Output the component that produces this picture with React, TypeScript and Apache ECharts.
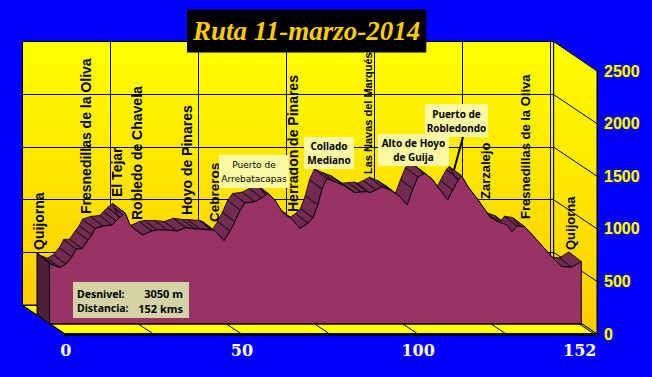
import React, { useEffect, useRef } from "react";
import * as echarts from "echarts";

const TITLE = "Ruta 11-marzo-2014";
const kms = [0,1.3,3,4.7,6.4,7.6,9.3,11,12.1,13,15.3,17.9,19,20.2,21.6,22.2,23,25.3,26.7,29.3,30.7,33.6,36.4,39,41.6,43,46.4,47.3,48.4,49.9,51.6,53,54.5,55.9,58.7,60.7,62.5,64.4,66.5,67.9,69.3,70.5,71.6,73.9,75.3,76.7,77.9,79.3,81.6,83.9,85.6,87.3,89,90.7,91.6,93.3,95,97.3,99.6,101,102.2,103.9,105.3,107.3,109.6,111,113.8,115.3,117,117.8,119.6,122.5,125.9,128.2,130.8,132.2,133.6,135.9,138.8,141.6,143.9,146.4,149.3,152];
const elevations = [575,556,535,570,637,713,716,798,846,906,932,941,979,1017,1055,1008,941,875,846,884,894,894,884,915,903,903,894,884,846,792,884,972,1084,1150,1163,1198,1240,1179,1067,1027,1003,951,908,960,1008,1131,1283,1383,1350,1321,1283,1248,1255,1258,1248,1274,1305,1274,1226,1179,1131,1283,1397,1432,1369,1302,1179,1274,1378,1407,1305,1179,1017,972,941,875,934,922,817,713,627,547,539,594];
const elevationTicks = [0,500,1000,1500,2000,2500];
const gridKms = [0,25,50,75,100,125,150];
const kmTickPositions = [0,50,100,150.4];
const kmTickLabels = ["0","50","100","152"];
const towns = ["Quijorna","Fresnedillas de la Oliva","El Tejar","Robledo de Chavela","Hoyo de Pinares","Cebreros","Herradon de Pinares","Las Navas del Marqués","Zarzalejo","Fresnedillas de la Oliva","Quijorna"];
const passes = ["Puerto de\nArrebatacapas","Collado\nMediano","Alto de Hoyo\nde Guija","Puerto de\nRobledondo"];
const summary = [["Desnivel:","3050 m"],["Distancia:","152 kms"]];

// layout of the pictured 3D box
const townPlace = [[39,250,14],[86,214,14],[117,197,14],[137,220,14],[187,215,14],[214,222,13.5],[293,212,14],[368,174,11],[485,199,13],[525,219,13],[570,250,13]];
const passBox = [
  [219,155,70,33,false],
  [304,137,50,32,true],
  [378,134,71,32,true],
  [425,104,63,33,true],
];
const SHIFT = [-12.5,-9.5];
const wallFill = () => new echarts.graphic.LinearGradient(0,0,0,1,[{offset:0,color:"#ffff00"},{offset:1,color:"#ffcc00"}]);

export default function App() {
  const ref = useRef<HTMLDivElement>(null);
  useEffect(() => {
    const chart = echarts.init(ref.current!, null, { renderer: "svg" });
    const data = kms.map((k,i)=>[k,elevations[i]]);
    const pxPerM = 263/2500;
    const graphic: any[] = [];
    // side wall
    graphic.push({ type:"polygon", z:-5, shape:{points:[[553.7,41.5],[597,71],[597,334],[553.7,305]]}, style:{fill:wallFill(),stroke:"#000",lineWidth:1}});
    // floor
    graphic.push({ type:"polygon", z:-5, shape:{points:[[22,305],[553.7,305],[597,334],[65,334]]}, style:{fill:"#ffff00",stroke:"#000",lineWidth:1}});
    elevationTicks.slice(1,-1).forEach(v=>{
      graphic.push({ type:"line", z:-4, shape:{x1:553.7,y1:305-v*pxPerM,x2:597,y2:334-v*pxPerM}, style:{stroke:"#000",lineWidth:1}});
    });
    gridKms.forEach(k=>{
      graphic.push({ type:"line", z:-4, shape:{x1:22+k*3.52,y1:305,x2:65+k*3.53,y2:334}, style:{stroke:"#000",lineWidth:1}});
    });
    towns.forEach((t,i)=>{
      const [x,y,s] = townPlace[i];
      graphic.push({ type:"text", z:-1, x, y, rotation:Math.PI/2, style:{text:t,fill:"#000",font:`bold ${s}px "Liberation Sans"`,align:"left",verticalAlign:"middle"}});
    });
    passes.forEach((t,i)=>{
      const [x,y,w,h,b] = passBox[i] as any;
      graphic.push({ type:"rect", z:20, shape:{x,y,width:w,height:h}, style:{fill:"#f9f9a3"}});
      graphic.push({ type:"text", z:21, x:x+w/2, y:y+h/2, style:{text:t,fill:"#000",font:b?'bold 10px "Noto Sans"':'9px "DejaVu Sans"',align:"center",verticalAlign:"middle",lineHeight:14}});
    });
    graphic.push({ type:"line", z:20, shape:{x1:463,y1:137,x2:454,y2:170}, style:{stroke:"#000",lineWidth:2}});
    graphic.push({ type:"rect", z:20, shape:{x:73,y:282,width:116,height:36}, style:{fill:"#d3d3a5"}});
    summary.forEach((r,i)=>{
      const y = 293.5+i*14.5;
      graphic.push({ type:"text", z:21, x:77, y, style:{text:r[0],fill:"#000",font:'bold 10.5px "Noto Sans"',align:"left",verticalAlign:"middle"}});
      graphic.push({ type:"text", z:21, x:183, y, style:{text:r[1],fill:"#000",font:'bold 11px "Noto Sans"',align:"right",verticalAlign:"middle"}});
    });

    const hidden = { show:false };
    chart.setOption({
      animation:false,
      backgroundColor:"#0000ff",
      title:{ text:TITLE, left:187, top:10, padding:[8,6], backgroundColor:"#000", z:30,
        textStyle:{ color:"#ffcc00", fontFamily:"Liberation Serif", fontStyle:"italic", fontWeight:"bold", fontSize:27, lineHeight:26, textShadowColor:"#806000", textShadowBlur:0, textShadowOffsetX:1, textShadowOffsetY:1 } },
      graphic,
      grid:[
        { left:22, top:41.5, width:531.7, height:263.5, show:true, backgroundColor:wallFill(), borderWidth:0, z:-10 },
        { left:597, top:71, width:1, height:263, show:false },
        { left:65, top:71, width:530, height:263, show:false },
        { left:49.5, top:61, width:531.8, height:263, show:false },
      ],
      xAxis:[
        { gridIndex:0, type:"value", min:0, max:151.05, interval:25, position:"top", z:-3,
          axisLine:{show:true,lineStyle:{color:"#000",width:1}}, axisTick:hidden, axisLabel:hidden,
          splitLine:{show:true,lineStyle:{color:"#000",width:1}} },
        { gridIndex:1, type:"value", min:0, max:1, show:false },
        { gridIndex:2, type:"value", min:0, max:150.4, position:"bottom", z:10,
          axisLine:{show:true,lineStyle:{color:"#000",width:3}},
          axisTick:{show:true,length:4,customValues:kmTickPositions,lineStyle:{color:"#000"}},
          axisLabel:{ customValues:kmTickPositions, margin:8, alignMaxLabel:"right", padding:[0,-1.5,0,0], color:"#fff", fontFamily:"DejaVu Serif", fontWeight:"bold", fontSize:16,
            formatter:(v:number)=>kmTickLabels[kmTickPositions.indexOf(v)] ?? "" },
          splitLine:hidden },
        { gridIndex:3, type:"value", min:0, max:152, position:"bottom", z:5,
          axisLine:{show:true,lineStyle:{color:"#000",width:1.5}}, axisTick:hidden, axisLabel:hidden, splitLine:hidden },
      ],
      yAxis:[
        { gridIndex:0, type:"value", min:0, max:2500, interval:500, z:-3,
          axisLine:{show:true,lineStyle:{color:"#000",width:1}}, axisTick:hidden, axisLabel:hidden,
          splitLine:{show:true,lineStyle:{color:"#000",width:1}} },
        { gridIndex:1, type:"value", min:0, max:2500, interval:500, position:"right", z:10,
          axisLine:{show:true,lineStyle:{color:"#000",width:1}},
          axisTick:{show:true,length:3,lineStyle:{color:"#000"}},
          axisLabel:{ margin:6, color:"#ffff00", fontFamily:"Liberation Sans", fontWeight:"bold", fontSize:16, textBorderColor:"#555500", textBorderWidth:0.6, textShadowColor:"#000", textShadowOffsetX:1, textShadowOffsetY:1, textShadowBlur:0, formatter:(v:number)=>String(v) },
          splitLine:hidden },
        { gridIndex:2, type:"value", min:0, max:2500, show:false },
        { gridIndex:3, type:"value", min:0, max:2500, show:false },
      ],
      series:[
        { type:"custom", xAxisIndex:3, yAxisIndex:3, z:3, silent:true, clip:false, data,
          encode:{x:0,y:1},
          renderItem:(params:any, api:any)=>{
            const i = params.dataIndex;
            const pts:number[][] = [];
            if (i===0) {
              const a = api.coord([api.value(0),api.value(1)]);
              const b = api.coord([api.value(0),0]);
              return { type:"polygon", z2:5, shape:{points:[a,b,[b[0]+SHIFT[0],b[1]+SHIFT[1]],[a[0]+SHIFT[0],a[1]+SHIFT[1]-1.5]]}, style:{fill:"#4d1f38",stroke:"#000",lineWidth:1} };
            }
            const a = api.coord(data[i-1]);
            const b = api.coord(data[i]);
            pts.push(a,b,[b[0]+SHIFT[0],b[1]+SHIFT[1]],[a[0]+SHIFT[0],a[1]+SHIFT[1]]);
            return { type:"polygon", shape:{points:pts}, style:{fill:"#722b52",stroke:"#000",lineWidth:0.8} };
          } },
        { type:"line", xAxisIndex:3, yAxisIndex:3, z:4, silent:true, data, showSymbol:false, symbol:"none",
          lineStyle:{color:"#000",width:1}, areaStyle:{color:"#993366",opacity:1,origin:"start"} },
        { type:"custom", xAxisIndex:3, yAxisIndex:3, z:5, silent:true, clip:false, data:[data[0],data[data.length-1]],
          renderItem:(_p:any, api:any)=>{
            const a = api.coord([api.value(0),api.value(1)]);
            const b = api.coord([api.value(0),0]);
            return { type:"line", shape:{x1:a[0],y1:a[1],x2:b[0],y2:b[1]}, style:{stroke:"#000",lineWidth:1} };
          } },
      ],
    });
    return () => chart.dispose();
  }, []);
  return <div ref={ref} style={{ position:"fixed", left:0, top:0, width:652, height:377, background:"#0000ff" }} />;
}
